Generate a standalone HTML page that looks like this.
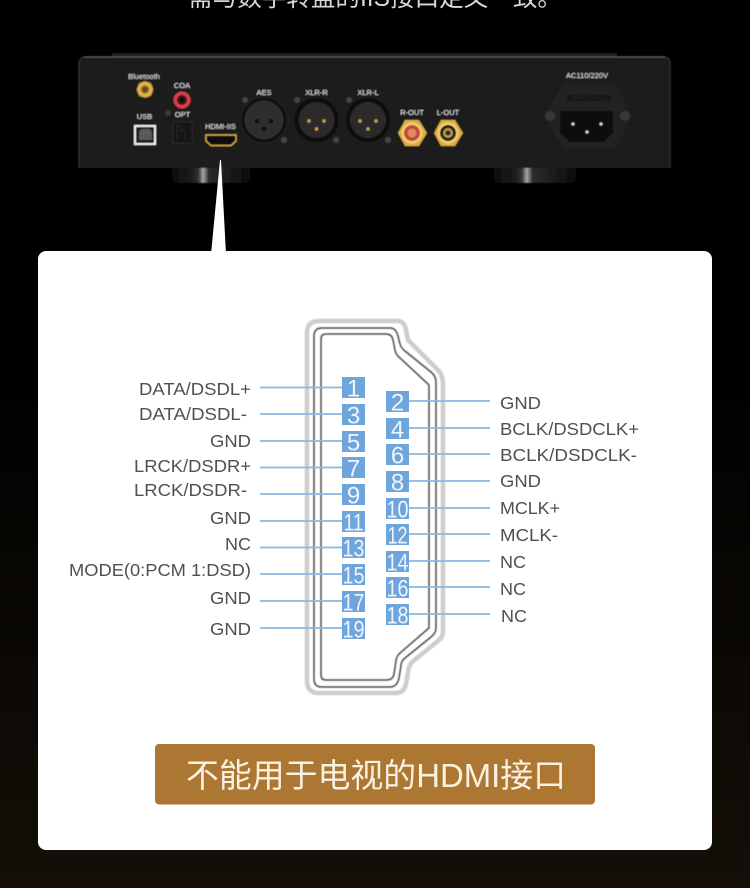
<!DOCTYPE html>
<html><head><meta charset="utf-8"><style>
html,body{margin:0;padding:0;width:750px;height:888px;overflow:hidden;background:#000}
svg{display:block}
text{font-family:"Liberation Sans","Noto Sans CJK SC",sans-serif}
</style></head><body>
<svg width="750" height="888" viewBox="0 0 750 888" xmlns="http://www.w3.org/2000/svg">
<defs>
<linearGradient id="bg" x1="0" y1="0" x2="0" y2="1"><stop offset="0.4" stop-color="#000"/><stop offset="1" stop-color="#140f08"/></linearGradient>
<linearGradient id="foot" x1="0" y1="0" x2="1" y2="0"><stop offset="0" stop-color="#0c0c0c"/><stop offset="0.25" stop-color="#1c1c1c"/><stop offset="0.34" stop-color="#333"/><stop offset="0.4" stop-color="#a8a8a8"/><stop offset="0.47" stop-color="#2c2c2c"/><stop offset="1" stop-color="#0a0a0a"/></linearGradient>
<radialGradient id="gold"><stop offset="0.3" stop-color="#7a5a1c"/><stop offset="0.65" stop-color="#eec459"/><stop offset="1" stop-color="#b98a2b"/></radialGradient>
<filter id="soft"><feGaussianBlur stdDeviation="0.45"/></filter>
</defs>
<rect width="750" height="888" fill="url(#bg)"/>
<text x="375" y="6" text-anchor="middle" font-size="25" fill="#d8d8d8" textLength="374" lengthAdjust="spacingAndGlyphs">需与数字转盘的IIS接口定义一致。</text>

<g filter="url(#soft)">
<path d="M172 168H250V178Q250 183 245 183H177Q172 183 172 178Z" fill="url(#foot)"/>
<path d="M494 168H576V178Q576 183 571 183H499Q494 183 494 178Z" fill="url(#foot)"/>
<rect x="112" y="53" width="505" height="4" fill="#202020"/>
<path d="M78 168V64q0-8 8-8H663q8 0 8 8V168Z" fill="#1a1a1a"/>
<path d="M79 168V64q0-7 7-7H663q7 0 7 7V168" fill="none" stroke="#333" stroke-width="1"/>
<path d="M84 57H665" fill="none" stroke="#5c5c5c" stroke-width="1.200"/>

<g fill="#e6e6e6" font-size="7.500" text-anchor="middle">
<text x="144" y="79">Bluetooth</text><text x="182" y="88">COA</text><text x="182.500" y="117">OPT</text><text x="144.500" y="119">USB</text>
<text x="220.500" y="129">HDMI-IIS</text><text x="264" y="95">AES</text><text x="316.500" y="95">XLR-R</text><text x="368" y="95">XLR-L</text>
<text x="412" y="115">R-OUT</text><text x="448" y="115">L-OUT</text><text x="587" y="78">AC110/220V</text>
</g>

<!-- Bluetooth -->
<polygon points="145,81 151,83 153.500,89.500 151,96 145,98 139,96 136.500,89.500 139,83" fill="url(#gold)"/>
<circle cx="145" cy="89.500" r="3" fill="#6a4c16"/>
<!-- COA -->
<circle cx="182" cy="100" r="8.500" fill="#d8404a"/><circle cx="182" cy="100" r="5" fill="#3a1416"/><circle cx="182" cy="100" r="2" fill="#050505"/>
<circle cx="168" cy="113" r="3" fill="#3a3a3a"/>
<!-- USB -->
<rect x="134" y="125" width="22" height="20" fill="#eee"/><rect x="136" y="127" width="18" height="16" fill="#1c1c1c"/>
<path d="M139 132l2-3h9l2 3v8h-13z" fill="#5a5a5a"/>
<!-- OPT -->
<rect x="173" y="122" width="19" height="21" fill="#131313" stroke="#2c2c2c" stroke-width="1"/>
<path d="M177 139v-13h4v5h4v8" fill="none" stroke="#2c2c2c" stroke-width="1"/>
<!-- HDMI -->
<path d="M206 135H236V141L231 145.500H211L206 141Z" fill="#0a0a0a" stroke="#d7ad45" stroke-width="1.400"/>

<!-- XLR -->
<g>
<circle cx="264" cy="120" r="22" fill="#0e0e0e"/><circle cx="264" cy="120" r="19.500" fill="#2e2e2e"/>
<circle cx="257" cy="121" r="2.300" fill="#0a0a0a"/><circle cx="271" cy="121" r="2.300" fill="#0a0a0a"/><circle cx="264" cy="129" r="2.300" fill="#0a0a0a"/>
<circle cx="245" cy="100" r="3" fill="#444"/><circle cx="284" cy="140" r="3" fill="#444"/>
</g>
<g>
<circle cx="316.500" cy="120" r="22" fill="#0c0c0c"/><circle cx="316.500" cy="120" r="18" fill="#2a2a2a"/>
<circle cx="309" cy="121" r="1.700" fill="#c9a24a"/><circle cx="324" cy="121" r="1.700" fill="#c9a24a"/><circle cx="316.500" cy="129" r="1.700" fill="#c9a24a"/>
<circle cx="297" cy="100" r="3" fill="#444"/><circle cx="336" cy="140" r="3" fill="#444"/>
</g>
<g>
<circle cx="368" cy="120" r="22" fill="#0c0c0c"/><circle cx="368" cy="120" r="18" fill="#2a2a2a"/>
<circle cx="360" cy="121" r="1.700" fill="#c9a24a"/><circle cx="376" cy="121" r="1.700" fill="#c9a24a"/><circle cx="368" cy="129" r="1.700" fill="#c9a24a"/>
<circle cx="349" cy="100" r="3" fill="#444"/><circle cx="388" cy="140" r="3" fill="#444"/>
</g>

<!-- RCA outs -->
<polygon points="405,120 419,120 427,133 419,146 405,146 398,133" fill="#dcae44"/>
<circle cx="412" cy="133" r="10.500" fill="#f3d071"/><circle cx="412" cy="133" r="8" fill="#c0473a"/><circle cx="412" cy="133" r="4.500" fill="#e08a5c"/>
<polygon points="441,120 455,120 463,133 455,146 441,146 434,133" fill="#dcae44"/>
<circle cx="448" cy="133" r="10.500" fill="#f3d071"/><circle cx="448" cy="133" r="8" fill="#1e1a10"/><circle cx="448" cy="133" r="5" fill="#b89a58"/><circle cx="448" cy="133" r="2.500" fill="#2a2110"/>

<!-- IEC -->
<polygon points="563,83 616,83 632,116 616,148 563,148 545,116" fill="#242424"/>
<rect x="564" y="87" width="50" height="24" fill="#202020"/>
<text x="589" y="101" font-size="8" fill="#0e0e0e" text-anchor="middle" font-weight="bold">AC110/220V</text>
<path d="M560 111H613V133L603 142H570L560 133Z" fill="#0f0f0f"/>
<circle cx="573" cy="124" r="1.500" fill="#ddd"/><circle cx="601" cy="124" r="1.500" fill="#ddd"/><circle cx="587" cy="132" r="1.500" fill="#ddd"/>
<circle cx="550" cy="116" r="5" fill="#383838"/><circle cx="625" cy="116" r="5" fill="#383838"/>
</g>

<!-- pointer + card -->
<polygon points="220,160 221,160 226,254 211,254" fill="#fff"/>
<rect x="38" y="251" width="674" height="599" rx="8" fill="#fff"/>

<!-- connector -->
<g fill="none" filter="url(#soft)">
<path d="M307 333Q307 321 319 321H398Q404 321 406 330L408 340L438 370Q443 375 443 385V632Q443 637 438 641L412 662Q409 665 408 672L406 684Q404 693 396 693H319Q307 693 307 681Z" stroke="#cdcdcd" stroke-width="4.500"/>
<path d="M314 336Q314 328 322 328H390Q396 328 398 336L400 344Q401 348 405 351L431 372Q436 376 436 382V628Q436 633 431 637L405 658Q401 661 401 666L399 678Q397 687 390 687H322Q314 687 314 679Z" stroke="#4c4c4c" stroke-width="1.500"/>
<path d="M321 339Q321 334 326 334H386Q392 334 393 340L395 350Q396 355 400 358L429 385V628L400 653Q396 657 396 661L394 674Q393 680 386 680H326Q321 680 321 675Z" stroke="#4c4c4c" stroke-width="1.500"/>
</g>

<!-- leader lines -->
<g stroke="#8ab8de" stroke-width="1.800">
<path d="M260 387.500H342M260 414H342M260 441H342M260 467.500H342M260 494H342M260 521H342M260 547.500H342M260 574H342M260 601H342M260 628H342"/>
<path d="M409 401H490M409 428H490M409 454H490M409 481H490M409 508H490M409 534H490M409 561H490M409 587H490M409 614H490"/>
</g>
<g fill="#6ea5dd">
<rect x="342" y="377" width="23" height="21"/><rect x="342" y="404" width="23" height="21"/><rect x="342" y="431" width="23" height="21"/><rect x="342" y="457" width="23" height="21"/><rect x="342" y="484" width="23" height="21"/><rect x="342" y="511" width="23" height="21"/><rect x="342" y="537" width="23" height="21"/><rect x="342" y="564" width="23" height="21"/><rect x="342" y="591" width="23" height="21"/><rect x="342" y="618" width="23" height="21"/>
<rect x="386" y="391" width="23" height="21"/><rect x="386" y="418" width="23" height="21"/><rect x="386" y="444" width="23" height="21"/><rect x="386" y="471" width="23" height="21"/><rect x="386" y="498" width="23" height="21"/><rect x="386" y="524" width="23" height="21"/><rect x="386" y="551" width="23" height="21"/><rect x="386" y="577" width="23" height="21"/><rect x="386" y="604" width="23" height="21"/>
</g>
<g fill="#eef5fc" font-size="24" text-anchor="middle">
<text x="353.500" y="396.500">1</text><text x="353.500" y="423.500">3</text><text x="353.500" y="450.500">5</text><text x="353.500" y="476.500">7</text><text x="353.500" y="503.500">9</text>
<text x="353.500" y="530.500" textLength="20" lengthAdjust="spacingAndGlyphs">11</text><text x="353.500" y="556.500" textLength="22" lengthAdjust="spacingAndGlyphs">13</text><text x="353.500" y="583.500" textLength="22" lengthAdjust="spacingAndGlyphs">15</text><text x="353.500" y="610.500" textLength="22" lengthAdjust="spacingAndGlyphs">17</text><text x="353.500" y="637.500" textLength="22" lengthAdjust="spacingAndGlyphs">19</text>
<text x="397.500" y="410.500">2</text><text x="397.500" y="437.500">4</text><text x="397.500" y="463.500">6</text><text x="397.500" y="490.500">8</text>
<text x="397.500" y="517.500" textLength="22" lengthAdjust="spacingAndGlyphs">10</text><text x="397.500" y="543.500" textLength="20" lengthAdjust="spacingAndGlyphs">12</text><text x="397.500" y="570.500" textLength="22" lengthAdjust="spacingAndGlyphs">14</text><text x="397.500" y="596.500" textLength="22" lengthAdjust="spacingAndGlyphs">16</text><text x="397.500" y="623.500" textLength="22" lengthAdjust="spacingAndGlyphs">18</text>
</g>

<!-- labels -->
<g fill="#505050" font-size="17.500">
<text x="139" y="395" textLength="112" lengthAdjust="spacingAndGlyphs">DATA/DSDL+</text>
<text x="139" y="420" textLength="108" lengthAdjust="spacingAndGlyphs">DATA/DSDL-</text>
<text x="210" y="447" textLength="41" lengthAdjust="spacingAndGlyphs">GND</text>
<text x="134" y="472" textLength="117" lengthAdjust="spacingAndGlyphs">LRCK/DSDR+</text>
<text x="134" y="496" textLength="113" lengthAdjust="spacingAndGlyphs">LRCK/DSDR-</text>
<text x="210" y="524" textLength="41" lengthAdjust="spacingAndGlyphs">GND</text>
<text x="225" y="550" textLength="26" lengthAdjust="spacingAndGlyphs">NC</text>
<text x="69" y="576" textLength="182" lengthAdjust="spacingAndGlyphs">MODE(0:PCM 1:DSD)</text>
<text x="210" y="604" textLength="41" lengthAdjust="spacingAndGlyphs">GND</text>
<text x="210" y="635" textLength="41" lengthAdjust="spacingAndGlyphs">GND</text>
<text x="500" y="409" textLength="41" lengthAdjust="spacingAndGlyphs">GND</text>
<text x="500" y="435" textLength="139" lengthAdjust="spacingAndGlyphs">BCLK/DSDCLK+</text>
<text x="500" y="461" textLength="137" lengthAdjust="spacingAndGlyphs">BCLK/DSDCLK-</text>
<text x="500" y="487" textLength="41" lengthAdjust="spacingAndGlyphs">GND</text>
<text x="500" y="514" textLength="60" lengthAdjust="spacingAndGlyphs">MCLK+</text>
<text x="500" y="541" textLength="58" lengthAdjust="spacingAndGlyphs">MCLK-</text>
<text x="500" y="568" textLength="26" lengthAdjust="spacingAndGlyphs">NC</text>
<text x="500" y="595" textLength="26" lengthAdjust="spacingAndGlyphs">NC</text>
<text x="501" y="622" textLength="26" lengthAdjust="spacingAndGlyphs">NC</text>
</g>

<!-- banner -->
<rect x="155" y="744" width="440" height="60.500" rx="4" fill="#ab7733"/>
<text x="186" y="787" font-size="33" fill="#faf1e2" textLength="380" lengthAdjust="spacingAndGlyphs">不能用于电视的HDMI接口</text>
</svg>
</body></html>
